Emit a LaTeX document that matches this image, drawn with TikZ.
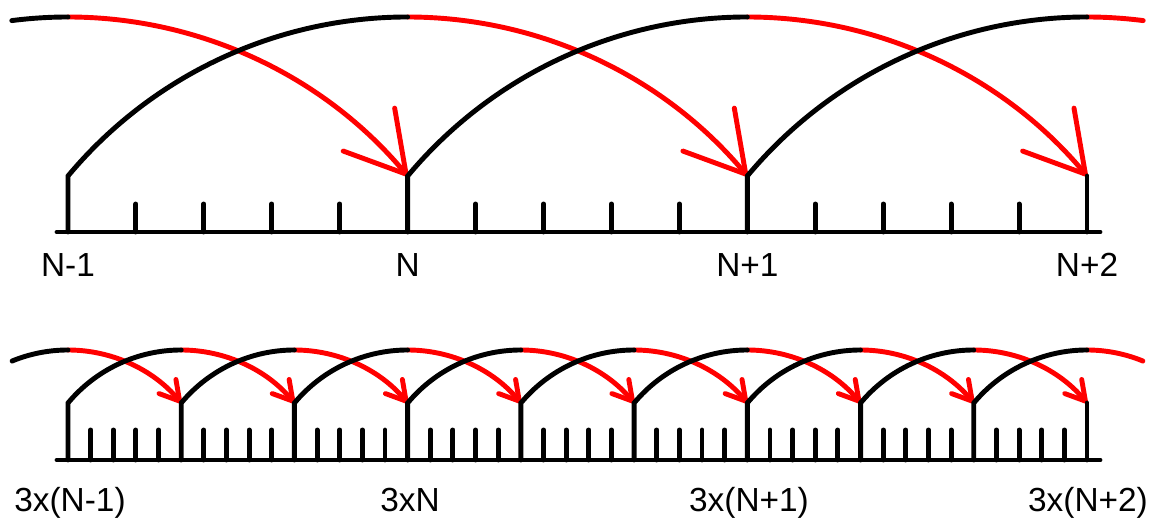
\documentclass[tikz,border=0pt]{standalone}
\usepackage{fontspec}
\setmainfont{Liberation Sans}
\usetikzlibrary{arrows.meta}
\tikzset{
  ruler/.style={line width=2.8pt, line cap=round, draw=black},
  jump/.style={line width=2.8pt, line cap=round, draw=red},
  bigjump/.style={jump, -{Straight Barb[length=1.16cm, width=1.34cm, round]}},
  smalljump/.style={jump, -{Straight Barb[length=0.38cm, width=0.44cm, round]}},
  ticklabel/.style={font=\fontsize{19}{22}\selectfont, anchor=base, inner sep=0pt}
}
\begin{document}
\begin{tikzpicture}[x=0.02cm, y=0.02cm]
  \useasboundingbox (0,0) rectangle (1153,520);
  % upper ruler: N-1 ... N+2
  \coordinate (tl) at (57,288);
  \coordinate (tr) at (1100,288);
  \foreach \i in {0,...,3} {
    \coordinate (tb\i) at ({68+339.67*\i},288);
    \coordinate (tt\i) at ({68+339.67*\i},344);
    \coordinate (tp\i) at ({68+339.67*\i},503);
  }
  % red halves first, black goes over them
  \foreach \i in {0,1,2}
    \draw[bigjump] (tp\i) arc[start angle=90, end angle=39.83, radius=442.3];
  \draw[jump] (tp3) arc[start angle=90, end angle=82.7, radius=442.3];
  \draw[ruler] (tl) -- (tr);
  \foreach \i in {0,1,2} {
    \foreach \j in {1,...,4}
      \draw[ruler] ({68+339.67*\i+67.93*\j},288) -- ++(0,28);
    \draw[ruler] (tb\i) -- (tt\i) arc[start angle=140.17, end angle=90, radius=442.3];
  }
  \draw[ruler] (tb3) -- (tt3);
  \draw[ruler] (tp0) arc[start angle=90, end angle=97.3, radius=442.3];
  \node[ticklabel] (tn0) at (68,243) {N-1};
  \node[ticklabel] (tn1) at (407.67,243) {N};
  \node[ticklabel] (tn2) at (747.33,243) {N+1};
  \node[ticklabel] (tn3) at (1087,243) {N+2};

  % lower ruler: 3 times finer
  \coordinate (bl) at (57,60);
  \coordinate (br) at (1100,60);
  \foreach \i in {0,...,9} {
    \coordinate (bb\i) at ({68+113.22*\i},60);
    \coordinate (bt\i) at ({68+113.22*\i},117);
    \coordinate (bp\i) at ({68+113.22*\i},170);
  }
  \foreach \i in {0,...,8}
    \draw[smalljump] (bp\i) arc[start angle=90, end angle=39.83, radius=147.43];
  \draw[jump] (bp9) arc[start angle=90, end angle=67.7, radius=147.43];
  \draw[ruler] (bl) -- (br);
  \foreach \i in {0,...,8} {
    \foreach \j in {1,...,4}
      \draw[ruler] ({68+113.22*\i+22.644*\j},60) -- ++(0,30);
    \draw[ruler] (bb\i) -- (bt\i) arc[start angle=140.17, end angle=90, radius=147.43];
  }
  \draw[ruler] (bb9) -- (bt9);
  \draw[ruler] (bp0) arc[start angle=90, end angle=112.3, radius=147.43];
  \node[ticklabel] (bn0) at (70,8) {3x(N-1)};
  \node[ticklabel] (bn1) at (410,8) {3xN};
  \node[ticklabel] (bn2) at (749,8) {3x(N+1)};
  \node[ticklabel] (bn3) at (1088,8) {3x(N+2)};
\end{tikzpicture}
\end{document}
